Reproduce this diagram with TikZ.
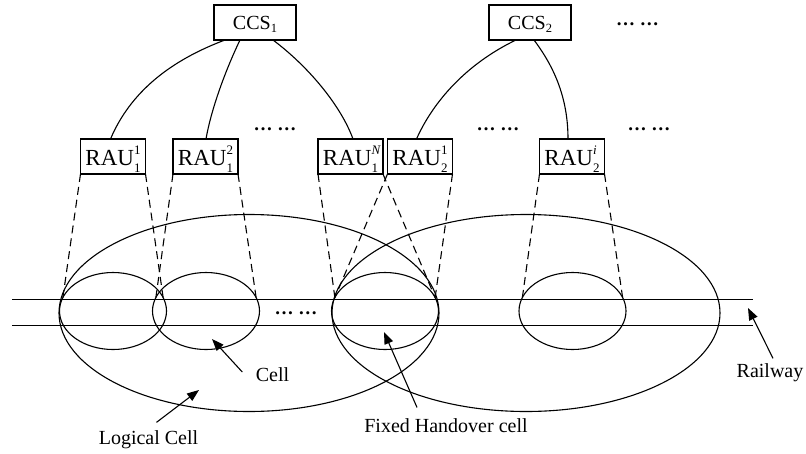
\documentclass[tikz,border=0pt]{standalone}
\usepackage{fontspec}
\setmainfont{Liberation Serif}
\usetikzlibrary{shapes.geometric,arrows.meta}
\newcommand{\rauname}[2]{RAU\rlap{\raisebox{11pt}{\fontsize{13}{13}\selectfont #1}}\raisebox{-7pt}{\fontsize{13}{13}\selectfont #2}}
\newcommand{\ccsname}[1]{CCS\raisebox{-2.5pt}{\fontsize{12.5}{12.5}\selectfont #1}}
\begin{document}
\begin{tikzpicture}[x=1pt,y=-1pt,line width=1.1pt,
  box/.style={draw,rectangle,inner sep=0pt,outer sep=0pt,minimum height=35pt},
  ccsbox/.style={box,minimum width=82pt,font=\fontsize{20}{24}\selectfont,text height=17pt,text depth=3pt},
  raubox/.style={box,minimum width=65pt,font=\fontsize{23}{26}\selectfont,text height=20pt,text depth=3pt},
  cellshape/.style={draw,ellipse,inner sep=0pt,outer sep=0pt,minimum width=107pt,minimum height=77pt},
  logical/.style={draw,ellipse,inner sep=0pt,outer sep=0pt,minimum height=197pt},
  beam/.style={dash pattern=on 8pt off 5pt},
  lbl/.style={font=\fontsize{20}{24}\selectfont,inner sep=0pt},
  dotslbl/.style={font=\fontsize{19}{22}\selectfont\bfseries,inner sep=0pt},
  pointer/.style={-{Triangle[length=12pt,width=9pt]}}]
\useasboundingbox (0,0) rectangle (806,453);

% rails
\coordinate (rail1a) at (12,299.5);
\coordinate (rail1b) at (753,299.5);
\coordinate (rail2a) at (12,325.5);
\coordinate (rail2b) at (753,325.5);
\draw (rail1a) -- (rail1b);
\draw (rail2a) -- (rail2b);

% logical cells
\node[logical,minimum width=380pt] (log1) at (249,313) {};
\node[logical,minimum width=388pt] (log2) at (526,313) {};

% cells
\node[cellshape] (c1) at (113,311) {};
\node[cellshape] (c2) at (206,311) {};
\node[cellshape] (ho) at (385,311) {};
\node[cellshape] (ci) at (572.5,311) {};

% boxes
\node[ccsbox] (ccs1) at (255,22.5) {\ccsname{1}};
\node[ccsbox] (ccs2) at (530,22.5) {\ccsname{2}};
\node[raubox] (r11) at (113,156.5) {\rauname{1}{1}};
\node[raubox] (r12) at (205.5,156.5) {\rauname{2}{1}};
\node[raubox] (r1n) at (350.5,156.5) {\rauname{\textit{N}}{1}};
\node[raubox] (r21) at (420,156.5) {\rauname{1}{2}};
\node[raubox] (r2i) at (572,156.5) {\rauname{\textit{i}}{2}};

% dots
\node[dotslbl] (dots1) at (637.5,24) {… …};
\node[dotslbl] (dots2) at (275,129) {… …};
\node[dotslbl] (dots3) at (498,129) {… …};
\node[dotslbl] (dots4) at (649,129) {… …};
\node[dotslbl] (dots5) at (296,313) {… …};

% links CCS -> RAU
\draw ([xshift=11pt]ccs1.south west) .. controls (169,61) and (130,93) .. ([xshift=30pt]r11.north west);
\draw ([xshift=26pt]ccs1.south west) .. controls (228,65) and (212,105) .. ([xshift=33pt]r12.north west);
\draw ([xshift=59pt]ccs1.south west) .. controls (309,67) and (341,106) .. ([xshift=35pt]r1n.north west);
\draw ([xshift=27pt]ccs2.south west) .. controls (466,64) and (433,102) .. ([xshift=29pt]r21.north west);
\draw ([xshift=45pt]ccs2.south west) .. controls (555,68) and (568,99) .. ([xshift=28.5pt]r2i.north west);

% coverage beams
\draw[beam] (r11.south west) -- (c1.165);
\draw[beam] (r11.south east) -- (c1.15);
\draw[beam] (r12.south west) -- (c2.165);
\draw[beam] (r12.south east) -- (c2.15);
\draw[beam] (r1n.south west) -- (ho.165);
\draw[beam] (r1n.south east) -- (ho.15);
\draw[beam] (r21.south west) -- (ho.165);
\draw[beam] (r21.south east) -- (ho.15);
\draw[beam] (r2i.south west) -- (ci.165);
\draw[beam] (r2i.south east) -- (ci.15);

% labels
\node[lbl] (celltxt) at (272.5,375) {Cell};
\node[lbl] (logtxt) at (148.5,440) {Logical Cell};
\node[lbl] (hotxt) at (446,426) {Fixed Handover cell};
\node[lbl] (railtxt) at (770,373) {Railway};

\coordinate (celltip) at (212,339);
\coordinate (logtip) at (199,390);
\coordinate (hotip) at (384,332);
\coordinate (railtip) at (748,308);
\draw[pointer] ([xshift=-13pt,yshift=3pt]celltxt.west) -- (celltip);
\draw[pointer] ([xshift=8pt,yshift=8pt]logtxt.north) -- (logtip);
\draw[pointer] ([xshift=-29pt,yshift=11pt]hotxt.north) -- (hotip);
\draw[pointer] ([xshift=3pt,yshift=5pt]railtxt.north) -- (railtip);
\end{tikzpicture}
\end{document}
